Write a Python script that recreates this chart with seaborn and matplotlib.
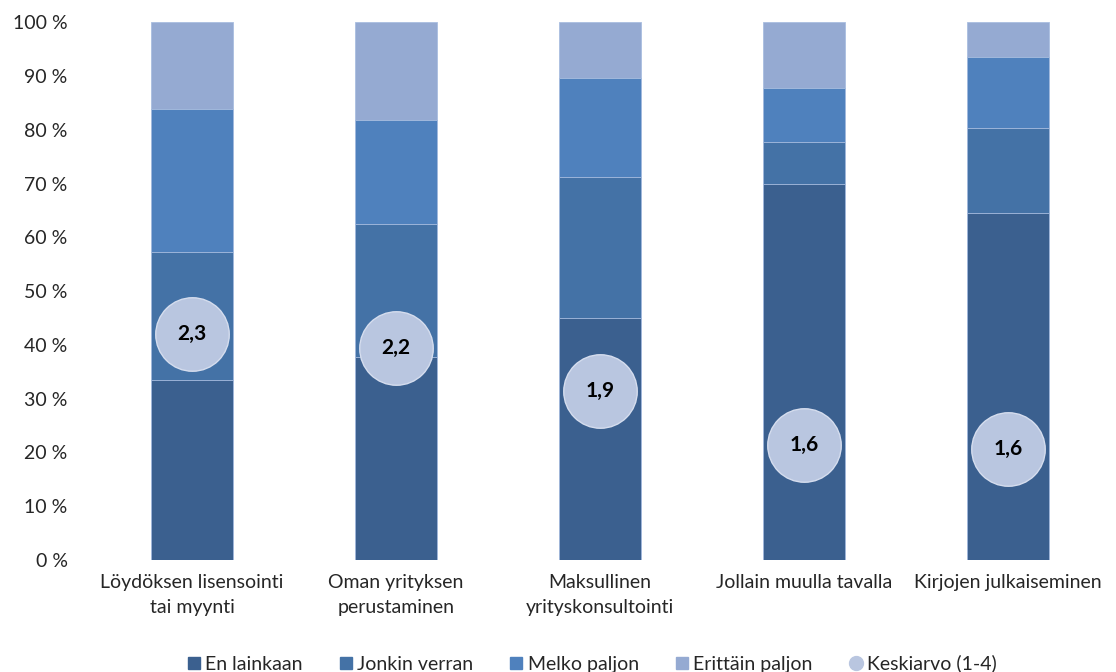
import numpy as np
import pandas as pd
import matplotlib
matplotlib.use("Agg")
import matplotlib.pyplot as plt
from matplotlib.lines import Line2D
import seaborn as sns

# --- Data ---
categories = [
    "Löydöksen lisensointi\ntai myynti",
    "Oman yrityksen\nperustaminen",
    "Maksullinen\nyrityskonsultointi",
    "Jollain muulla tavalla",
    "Kirjojen julkaiseminen",
]
en_lainkaan = [33.5, 37.8, 45.0, 70.0, 64.6]
jonkin_verran = [23.7, 24.7, 26.2, 7.7, 15.7]
melko_paljon = [26.6, 19.4, 18.4, 10.0, 13.3]
erittain_paljon = [16.2, 18.1, 10.4, 12.3, 6.4]
keskiarvo = [2.26, 2.18, 1.94, 1.64, 1.62]

series_names = ["En lainkaan", "Jonkin verran", "Melko paljon", "Erittäin paljon"]
series_colors = ["#3B608F", "#4472A6", "#4F81BD", "#95AAD2"]
mean_color = "#B9C6E0"

# --- Style ---
sns.set_style("white")
plt.rcParams["font.family"] = ["Lato", "DejaVu Sans"]

df = pd.DataFrame({
    "kategoria": categories,
    series_names[0]: en_lainkaan,
    series_names[1]: jonkin_verran,
    series_names[2]: melko_paljon,
    series_names[3]: erittain_paljon,
})

fig = plt.figure(figsize=(11.16, 6.72), dpi=100)
ax = fig.add_axes([0.0806, 0.1667, 0.914, 0.8003])

# stacked bars: draw cumulative totals from the top segment down
cum = df[series_names].cumsum(axis=1)
for name, color in reversed(list(zip(series_names, series_colors))):
    sns.barplot(x=df["kategoria"], y=cum[name], color=color, width=0.4,
                edgecolor="#A9BEE0", linewidth=0.6, saturation=1, ax=ax)

ax.set_ylim(0, 100)
ax.set_xlim(-0.5, len(categories) - 0.5)
ax.set_yticks(np.arange(0, 101, 10))
ax.set_yticklabels([f"{v} %" for v in range(0, 101, 10)])
ax.set_xlabel("")
ax.set_ylabel("")
ax.tick_params(axis="y", length=0, pad=16, labelsize=14)
ax.tick_params(axis="x", length=0, pad=10, labelsize=14)
for lbl in ax.get_xticklabels():
    lbl.set_linespacing(1.55)
sns.despine(ax=ax, left=True, bottom=True)

# mean values on a hidden secondary axis (scale 1-4)
ax2 = ax.twinx()
xpos = np.arange(len(categories))
sns.scatterplot(x=xpos, y=keskiarvo, s=2800, color=mean_color,
                edgecolor="#D5DDEE", linewidth=1, ax=ax2, zorder=5, legend=False)
for x, m in zip(xpos, keskiarvo):
    ax2.text(x, m, f"{m:.1f}".replace(".", ","), ha="center", va="center",
             fontsize=15, fontweight="bold", color="black", zorder=6)
ax2.set_ylim(1, 4)
ax2.set_yticks([])
ax2.set_ylabel("")
sns.despine(ax=ax2, left=True, bottom=True, right=True)

# legend
handles = [Line2D([0], [0], marker="s", linestyle="", markersize=9,
                  markerfacecolor=c, markeredgecolor=c) for c in series_colors]
handles.append(Line2D([0], [0], marker="o", linestyle="", markersize=10,
                      markerfacecolor=mean_color, markeredgecolor=mean_color))
labels = series_names + ["Keskiarvo (1-4)"]
fig.legend(handles, labels, loc="lower center", bbox_to_anchor=(0.53, -0.027),
           ncol=5, frameon=False, fontsize=14, handlelength=0.8,
           handletextpad=0.2, columnspacing=1.8)

fig.savefig("out.png", dpi=100)
